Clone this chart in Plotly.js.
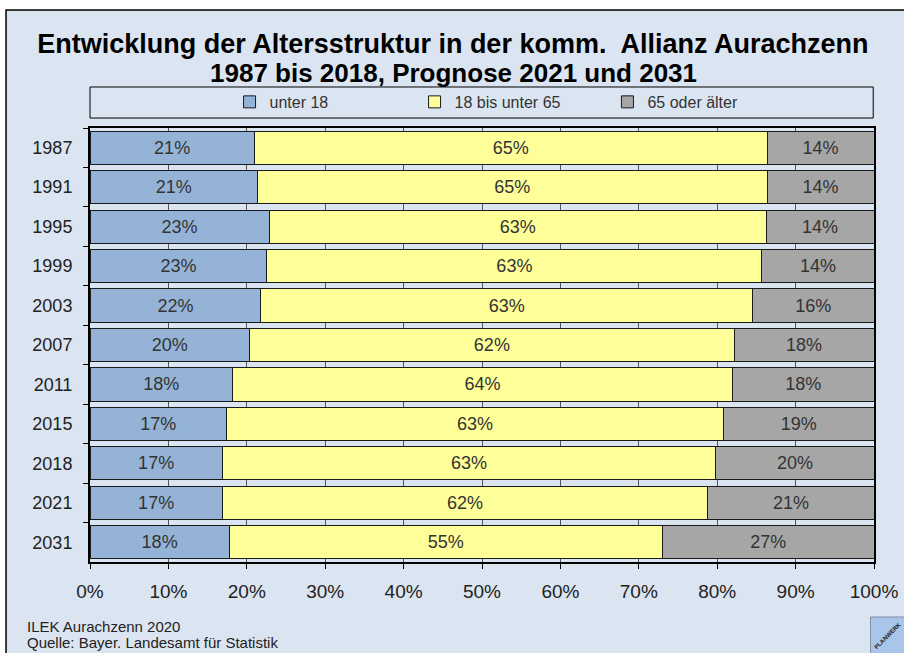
<!DOCTYPE html>
<html>
<head>
<meta charset="utf-8">
<script src="https://cdn.plot.ly/plotly-3.0.1.min.js"></script>
<style>
  html, body { margin: 0; padding: 0; background: #ffffff; }
  #chart { width: 904px; height: 653px; }
</style>
</head>
<body>
<div id="chart"></div>
<script>
// Years (top to bottom)
const years = ['1987', '1991', '1995', '1999', '2003', '2007', '2011', '2015', '2018', '2021', '2031'];

// Shares in percent
const under18 = [20.95, 21.36, 22.86, 22.56, 21.8, 20.35, 18.19, 17.4, 16.87, 16.87, 17.76];
const age18to65 = [65.43, 65.02, 63.39, 63.14, 62.7, 61.82, 63.77, 63.4, 62.97, 61.95, 55.24];
const over65 = [13.62, 13.62, 13.75, 14.3, 15.5, 17.83, 18.04, 19.2, 20.16, 21.18, 27.0];

const seriesNames = ['unter 18', '18 bis unter 65', '65 oder älter'];
const xTicks = [0, 10, 20, 30, 40, 50, 60, 70, 80, 90, 100];

const bg = '#dbe5f1';
const colors = ['#95b3d7', '#ffff99', '#a6a6a6'];
const legends = ['legend', 'legend2', 'legend3'];
const fontFamily = 'Liberation Sans, Arial, sans-serif';

// Build one trace per age group
const data = [under18, age18to65, over65].map((vals, i) => ({
    type: 'bar',
    orientation: 'h',
    name: seriesNames[i],
    x: vals,
    y: years,
    legend: legends[i],
    marker: { color: colors[i], line: { color: '#1a1a1a', width: 1 } },
    texttemplate: '%{x:.0f}%',
    textposition: 'inside',
    insidetextanchor: 'middle',
    textangle: 0,
    constraintext: 'none',
    textfont: { family: fontFamily, size: 18, color: '#333333' },
    hoverinfo: 'skip'
}));

function legendAt(x) {
    return {
        orientation: 'h',
        x: x,
        xanchor: 'left',
        y: 1.06,
        yanchor: 'middle',
        bgcolor: 'rgba(0,0,0,0)',
        borderwidth: 0,
        font: { family: fontFamily, size: 16, color: '#333333' }
    };
}

const layout = {
    width: 904,
    height: 653,
    margin: { l: 90, r: 30, t: 128, b: 91 },
    paper_bgcolor: '#ffffff',
    plot_bgcolor: bg,
    barmode: 'stack',
    bargap: 0.16,
    font: { family: fontFamily, color: '#222222' },
    title: {
        text: 'Entwicklung der Altersstruktur in der komm.\u00a0 Allianz Aurachzenn',
        font: { family: fontFamily, size: 27, color: '#000000', weight: 'bold' },
        x: 0.501,
        xanchor: 'center',
        yref: 'container',
        y: 0.9326,
        yanchor: 'middle'
    },
    xaxis: {
        range: [0, 100],
        tickvals: xTicks,
        ticktext: xTicks.map(v => v + '%'),
        ticks: 'outside',
        ticklen: 5,
        tickcolor: '#000000',
        tickfont: { family: fontFamily, size: 19, color: '#222222' },
        ticklabelstandoff: 6,
        showgrid: true,
        gridcolor: '#555555',
        gridwidth: 1,
        showline: true,
        linecolor: '#000000',
        linewidth: 2,
        mirror: true,
        zeroline: false,
        fixedrange: true
    },
    yaxis: {
        type: 'category',
        autorange: 'reversed',
        ticks: 'outside',
        tickson: 'boundaries',
        ticklen: 5,
        tickcolor: '#000000',
        tickfont: { family: fontFamily, size: 18, color: '#222222' },
        ticklabelstandoff: 12,
        showgrid: false,
        showline: true,
        linecolor: '#000000',
        linewidth: 2,
        mirror: true,
        fixedrange: true
    },
    showlegend: true,
    legend: legendAt(0.178),
    legend2: legendAt(0.414),
    legend3: legendAt(0.660),
    shapes: [
        // outer frame
        {
            type: 'rect', xref: 'paper', yref: 'paper', layer: 'below',
            x0: -0.1071, x1: 1.1, y0: -0.3, y1: 1.2719,
            fillcolor: bg, line: { color: '#000000', width: 1.5 }
        },
        // legend box
        {
            type: 'rect', xref: 'paper', yref: 'paper', layer: 'above',
            x0: 0, x1: 0.999, y0: 1.023, y1: 1.0945,
            fillcolor: 'rgba(0,0,0,0)', line: { color: '#000000', width: 1 }
        },
        // logo corner
        {
            type: 'rect', xref: 'paper', yref: 'paper', layer: 'above',
            x0: 0.9955, x1: 1.06, y0: -0.1267, y1: -0.25,
            fillcolor: '#a9c6ea', line: { color: '#7f8fa6', width: 1 }
        }
    ],
    annotations: [
        {
            text: '1987 bis 2018, Prognose 2021 und 2031', xref: 'paper', yref: 'paper',
            x: 0.4633, y: 1.1267, xanchor: 'center', yanchor: 'middle', showarrow: false,
            font: { family: fontFamily, size: 26, color: '#000000', weight: 'bold' }
        },
        {
            text: 'ILEK Aurachzenn 2020', xref: 'paper', yref: 'paper',
            x: -0.083, y: -0.149, xanchor: 'left', yanchor: 'middle', showarrow: false,
            font: { family: fontFamily, size: 15, color: '#222222' }
        },
        {
            text: 'Quelle: Bayer. Landesamt für Statistik', xref: 'paper', yref: 'paper',
            x: -0.083, y: -0.185, xanchor: 'left', yanchor: 'middle', showarrow: false,
            font: { family: fontFamily, size: 15, color: '#222222' }
        },
        {
            text: 'PLANWERK', xref: 'paper', yref: 'paper',
            x: 1.017, y: -0.17, xanchor: 'center', yanchor: 'middle', showarrow: false,
            textangle: -45,
            font: { family: fontFamily, size: 6, color: '#1a1a1a', weight: 'bold' }
        }
    ]
};

Plotly.newPlot('chart', data, layout, { displayModeBar: false, staticPlot: true });
</script>
</body>
</html>
